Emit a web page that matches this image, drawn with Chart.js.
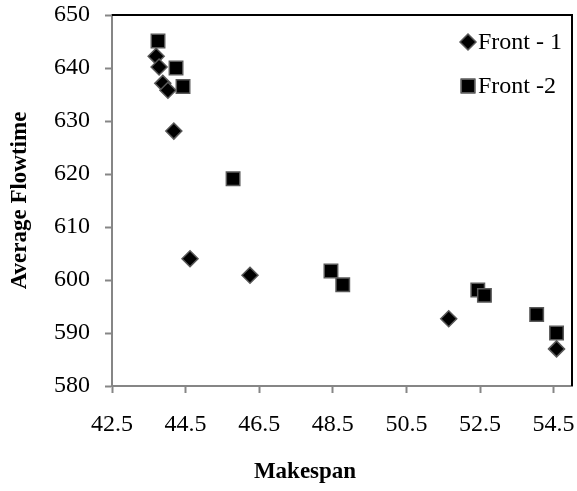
<!DOCTYPE html>
<html>
<head>
<meta charset="utf-8">
<title>Makespan vs Average Flowtime</title>
<script src="https://cdn.jsdelivr.net/npm/chart.js@4/dist/chart.umd.min.js"></script>
<style>
    html, body { margin: 0; padding: 0; background: #fff; }
    #wrapper { width: 577px; height: 491px; }
</style>
</head>
<body>
<div id="wrapper"><canvas id="grafico" width="577" height="491"></canvas></div>
<script>
"use strict"

// Pareto fronts: makespan (x) / average flowtime (y)
const front1Makespan = [43.70, 43.78, 43.88, 44.02, 44.18, 44.62, 46.25, 51.65, 54.58];
const front1Flowtime = [642.2, 640.2, 637.1, 635.8, 628.1, 604.0, 600.9, 592.7, 587.0];
const front2Makespan = [43.75, 44.24, 44.43, 45.79, 48.45, 48.77, 52.44, 52.62, 54.04, 54.58];
const front2Flowtime = [645.1, 640.0, 636.5, 619.1, 601.7, 599.1, 598.1, 597.1, 593.5, 590.0];
const xTicks = [42.5, 44.5, 46.5, 48.5, 50.5, 52.5, 54.5];
const yTicks = [580, 590, 600, 610, 620, 630, 640, 650];
const seriesNames = ["Front - 1", "Front -2"];
const xTitle = "Makespan";

window.onload = function () {
    let canvas = document.getElementById("grafico");
    const serif = "'Liberation Serif', 'Times New Roman', serif";
    const grigio = "#868686";

    function toPoints(xs, ys) {
        let punti = [];
        for (let i = 0; i < xs.length; i++) {
            punti.push({ x: xs[i], y: ys[i] });
        }
        return punti;
    }

    // black frame on top and right of the plot area
    let cornice = {
        id: "cornice",
        beforeDatasetsDraw(chart) {
            let a = chart.chartArea;
            let ctx = chart.ctx;
            ctx.save();
            ctx.strokeStyle = "#000";
            ctx.lineWidth = 2;
            ctx.beginPath();
            ctx.moveTo(a.left, a.top);
            ctx.lineTo(a.right, a.top);
            ctx.lineTo(a.right, a.bottom);
            ctx.stroke();
            ctx.restore();
        }
    };

    // legend inside the plot, top right + x axis title (sits a bit left of centre)
    let legenda = {
        id: "legenda",
        afterDatasetsDraw(chart) {
            let ctx = chart.ctx;
            let a = chart.chartArea;
            ctx.save();
            chart.data.datasets.forEach(function (ds, i) {
                let x = a.right - 104;
                let y = a.top + 27 + i * 44;
                Chart.helpers.drawPoint(ctx, {
                    pointStyle: ds.pointStyle,
                    radius: ds.pointRadius,
                    borderWidth: ds.borderWidth
                }, x, y);
                ctx.fillStyle = ds.backgroundColor;
                ctx.strokeStyle = ds.borderColor;
                ctx.lineWidth = ds.borderWidth;
                ctx.fill();
                ctx.stroke();
                ctx.fillStyle = "#000";
                ctx.font = "24px " + serif;
                ctx.textAlign = "left";
                ctx.textBaseline = "middle";
                ctx.fillText(ds.label, x + 10, y + 1);
            });

            ctx.font = "bold 23px " + serif;
            ctx.textAlign = "center";
            ctx.textBaseline = "middle";
            ctx.fillText(xTitle, a.left + 193, 472);
            ctx.restore();
        }
    };

    let chart = new Chart(canvas, {
        type: "scatter",
        data: {
            datasets: [{
                label: seriesNames[0],
                data: toPoints(front1Makespan, front1Flowtime),
                pointStyle: "rectRot",
                pointRadius: 8,
                pointHoverRadius: 8,
                backgroundColor: "#000",
                borderColor: "#595959",
                borderWidth: 1.5
            }, {
                label: seriesNames[1],
                data: toPoints(front2Makespan, front2Flowtime),
                pointStyle: "rect",
                pointRadius: 9.5,
                pointHoverRadius: 9.5,
                backgroundColor: "#000",
                borderColor: "#595959",
                borderWidth: 1.5
            }]
        },
        options: {
            responsive: false,
            animation: false,
            layout: {
                autoPadding: false,
                padding: { top: 15, right: 5, left: 0, bottom: 0 }
            },
            plugins: {
                legend: { display: false },
                tooltip: { enabled: false }
            },
            scales: {
                x: {
                    type: "linear",
                    min: 42.5,
                    max: 55,
                    afterBuildTicks: function (scale) {
                        scale.ticks = xTicks.map(v => ({ value: v }));
                    },
                    afterFit: function (scale) {
                        scale.height = 105;
                        scale.paddingLeft = 0;
                        scale.paddingRight = 0;
                    },
                    ticks: {
                        color: "#000",
                        padding: 17,
                        maxRotation: 0,
                        font: { family: serif, size: 24 },
                        callback: v => v.toFixed(1)
                    },
                    grid: {
                        drawOnChartArea: false,
                        drawTicks: true,
                        tickLength: 7,
                        tickWidth: 2,
                        tickColor: grigio
                    },
                    border: { color: grigio, width: 2 }
                },
                y: {
                    type: "linear",
                    min: 580,
                    max: 650,
                    afterBuildTicks: function (scale) {
                        scale.ticks = yTicks.map(v => ({ value: v }));
                    },
                    afterFit: function (scale) {
                        scale.width = 112;
                        scale.paddingTop = 0;
                        scale.paddingBottom = 0;
                    },
                    ticks: {
                        color: "#000",
                        padding: 15,
                        font: { family: serif, size: 24 }
                    },
                    grid: {
                        drawOnChartArea: false,
                        drawTicks: true,
                        tickLength: 7,
                        tickWidth: 2,
                        tickColor: grigio
                    },
                    border: { color: grigio, width: 2 },
                    title: {
                        display: true,
                        text: "Average Flowtime",
                        color: "#000",
                        padding: { top: 6, bottom: 0 },
                        font: { family: serif, size: 23, weight: "bold" }
                    }
                }
            }
        },
        plugins: [cornice, legenda]
    });
}
</script>
</body>
</html>
